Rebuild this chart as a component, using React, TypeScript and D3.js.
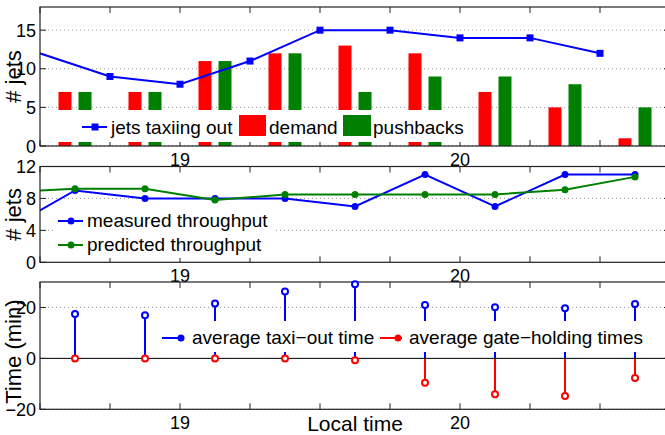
import * as d3 from "d3";
import React from "react";

const W = 665;
const H = 435;
const FONT = "'Liberation Sans', Arial, Helvetica, sans-serif";

// 15-minute bins, local time in hours; bars and stems sit at bin centres
const binCenters = [18.625, 18.875, 19.125, 19.375, 19.625, 19.875, 20.125, 20.375, 20.625];
const demand = [7, 7, 11, 12, 13, 12, 7, 5, 1];
const pushbacks = [7, 7, 11, 12, 7, 9, 9, 8, 5];

// jets taxiing out (first point lies left of the visible window)
const taxiTimes = [18.25, 18.75, 19, 19.25, 19.5, 19.75, 20, 20.25, 20.5];
const jetsTaxiing = [15, 9, 8, 11, 15, 15, 14, 14, 12];

// throughput
const throughputTimes = [18.375, ...binCenters];
const measured = [4, 9, 8, 8, 8, 7, 11, 7, 11, 11];
const predicted = [8.8, 9.2, 9.2, 7.8, 8.5, 8.5, 8.5, 8.5, 9.1, 10.7];

// times in minutes
const avgTaxiOut = [17.4, 16.9, 21.6, 26.3, 29.1, 21.0, 20.1, 19.7, 21.4];
const avgGateHold = [0, 0, 0, 0, -0.7, -9.6, -14.1, -14.8, -7.7];

const xTicks = [18.5, 18.75, 19, 19.25, 19.5, 19.75, 20, 20.25, 20.5, 20.75];
const xTickLabels = new Map([[19, "19"], [20, "20"]]);

const BLUE = "#0000ff";
const RED = "#ff0000";
const GREEN = "#008000";

const x = d3.scaleLinear().domain([18.5, 20.75]).range([40, 670]);
const sub = d3.scaleBand().domain(["demand", "pushbacks"]).range([-16.5, 16.5]).paddingInner(0.35);

type Scale = d3.ScaleLinear<number, number>;

type PanelProps = {
  id: string;
  top: number;
  bottom: number;
  domain: [number, number];
  yTicks: number[];
  ylabel: string;
  ylabelShift?: number;
  children: (y: Scale) => React.ReactNode;
  overlay?: (y: Scale) => React.ReactNode;
  legend?: React.ReactNode;
};

const Panel = ({ id, top, bottom, domain, yTicks, ylabel, ylabelShift = 0, children, overlay, legend }: PanelProps) => {
  const y = d3.scaleLinear().domain(domain).range([bottom, top]);
  const [x0, x1] = x.range();
  const tick = 6;
  return (
    <g>
      <clipPath id={id}>
        <rect x={x0} y={top} width={x1 - x0} height={bottom - top} />
      </clipPath>
      {yTicks.map((t) => (
        <line key={"g" + t} x1={x0} x2={x1} y1={y(t)} y2={y(t)} stroke="#999" strokeDasharray="1,3" />
      ))}
      <g clipPath={`url(#${id})`}>{children(y)}</g>
      {xTicks.map((t) => (
        <g key={"x" + t} stroke="#222">
          <line x1={x(t)} x2={x(t)} y1={bottom} y2={bottom - tick} />
          <line x1={x(t)} x2={x(t)} y1={top} y2={top + tick} />
        </g>
      ))}
      {yTicks.map((t) => (
        <g key={"y" + t} stroke="#222">
          <line x1={x0} x2={x0 + tick} y1={y(t)} y2={y(t)} />
          <line x1={x1} x2={x1 - tick} y1={y(t)} y2={y(t)} />
        </g>
      ))}
      <rect x={x0} y={top} width={x1 - x0} height={bottom - top} fill="none" stroke="#222" strokeWidth={1.2} />
      {overlay && overlay(y)}
      {yTicks.map((t) => (
        <text key={"yl" + t} x={36} y={y(t) + 6.5} textAnchor="end" fontSize={18}>
          {t < 0 ? "\u2212" + Math.abs(t) : t}
        </text>
      ))}
      {xTicks
        .filter((t) => xTickLabels.has(t))
        .map((t) => (
          <text key={"xl" + t} x={x(t)} y={bottom + 19.5} textAnchor="middle" fontSize={18}>
            {xTickLabels.get(t)}
          </text>
        ))}
      <text
        transform={`translate(21,${(top + bottom) / 2 + ylabelShift}) rotate(-90)`}
        textAnchor="middle"
        fontSize={22}
      >
        {ylabel}
      </text>
      {legend}
    </g>
  );
};

const App = () => {
  return (
    <svg
      width={W}
      height={H}
      style={{ position: "absolute", left: 0, top: 0, background: "#fff" }}
      fontFamily={FONT}
    >
      <rect width={W} height={H} fill="#fff" />

      {/* demand / pushbacks / jets taxiing out */}
      <Panel
        id="c1"
        top={7}
        bottom={146}
        domain={[0, 18]}
        yTicks={[0, 5, 10, 15]}
        ylabel="# jets"
        legend={
          <g fontSize={19}>
            <rect x={52} y={110} width={420} height={32} fill="#fff" />
            <line x1={82} x2={107} y1={127} y2={127} stroke={BLUE} strokeWidth={2} />
            <rect x={91.5} y={123.5} width={7} height={7} fill={BLUE} />
            <text x={111} y={133.5}>jets taxiing out</text>
            <rect x={239} y={115} width={27} height={21} fill={RED} />
            <text x={269} y={133.5}>demand</text>
            <rect x={343} y={115} width={28} height={21} fill={GREEN} />
            <text x={373} y={133.5}>pushbacks</text>
          </g>
        }
      >
        {(y) => {
          const line = d3
            .line<number>()
            .x((_, i) => x(taxiTimes[i]))
            .y((d) => y(d));
          return (
            <g>
              {binCenters.map((c, i) => (
                <g key={c}>
                  <rect
                    x={x(c) + (sub("demand") as number)}
                    y={y(demand[i])}
                    width={sub.bandwidth()}
                    height={y(0) - y(demand[i])}
                    fill={RED}
                  />
                  <rect
                    x={x(c) + (sub("pushbacks") as number)}
                    y={y(pushbacks[i])}
                    width={sub.bandwidth()}
                    height={y(0) - y(pushbacks[i])}
                    fill={GREEN}
                  />
                </g>
              ))}
              <path d={line(jetsTaxiing) ?? ""} fill="none" stroke={BLUE} strokeWidth={2} />
              {jetsTaxiing.map((d, i) => (
                <rect key={i} x={x(taxiTimes[i]) - 3.5} y={y(d) - 3.5} width={7} height={7} fill={BLUE} />
              ))}
            </g>
          );
        }}
      </Panel>

      {/* throughput */}
      <Panel
        id="c2"
        top={166.5}
        bottom={262.3}
        domain={[0, 12]}
        yTicks={[0, 4, 8, 12]}
        ylabel="# jets"
        legend={
          <g fontSize={19}>
            <rect x={53} y={204} width={222} height={54} fill="#fff" />
            <line x1={58} x2={83} y1={221} y2={221} stroke={BLUE} strokeWidth={2} />
            <circle cx={71} cy={221} r={3.5} fill={BLUE} />
            <text x={87} y={227}>measured throughput</text>
            <line x1={58} x2={83} y1={245} y2={245} stroke={GREEN} strokeWidth={2} />
            <circle cx={71} cy={245} r={3.5} fill={GREEN} />
            <text x={87} y={251}>predicted throughput</text>
          </g>
        }
      >
        {(y) => {
          const line = d3
            .line<number>()
            .x((_, i) => x(throughputTimes[i]))
            .y((d) => y(d));
          return (
            <g>
              <path d={line(measured) ?? ""} fill="none" stroke={BLUE} strokeWidth={2} />
              {measured.map((d, i) => (
                <circle key={"m" + i} cx={x(throughputTimes[i])} cy={y(d)} r={3.5} fill={BLUE} />
              ))}
              <path d={line(predicted) ?? ""} fill="none" stroke={GREEN} strokeWidth={2} />
              {predicted.map((d, i) => (
                <circle key={"p" + i} cx={x(throughputTimes[i])} cy={y(d)} r={3.5} fill={GREEN} />
              ))}
            </g>
          );
        }}
      </Panel>

      {/* taxi-out and gate-holding times */}
      <Panel
        id="c3"
        top={282}
        bottom={409.3}
        domain={[-20, 30]}
        yTicks={[-20, 0, 20]}
        ylabel="Time (min)"
        ylabelShift={6}
        legend={
          <g fontSize={19}>
            <rect x={155} y={321} width={497} height={31} fill="#fff" />
            <line x1={162} x2={184} y1={338} y2={338} stroke={BLUE} strokeWidth={2} />
            <circle cx={181} cy={338} r={3.5} fill={BLUE} />
            <text x={192} y={344}>average taxi{"\u2212"}out time</text>
            <line x1={380} x2={402} y1={338} y2={338} stroke={RED} strokeWidth={2} />
            <circle cx={398} cy={338} r={3.5} fill={RED} />
            <text x={409} y={344}>average gate{"\u2212"}holding times</text>
          </g>
        }
        overlay={(y) => (
          <g>
            {binCenters.map((c, i) => (
              <circle key={"bm" + i} cx={x(c)} cy={y(avgTaxiOut[i])} r={3} fill="#fff" stroke={BLUE} strokeWidth={2} />
            ))}
            {binCenters.map((c, i) => (
              <circle key={"rm" + i} cx={x(c)} cy={y(avgGateHold[i])} r={3} fill="#fff" stroke={RED} strokeWidth={2} />
            ))}
          </g>
        )}
      >
        {(y) => (
          <g>
            {binCenters.map((c, i) => (
              <line key={"bs" + i} x1={x(c)} x2={x(c)} y1={y(0)} y2={y(avgTaxiOut[i])} stroke={BLUE} strokeWidth={2} />
            ))}
            {binCenters.map((c, i) => (
              <line key={"rs" + i} x1={x(c)} x2={x(c)} y1={y(0)} y2={y(avgGateHold[i])} stroke={RED} strokeWidth={2} />
            ))}
            <line x1={x.range()[0]} x2={x.range()[1]} y1={y(0)} y2={y(0)} stroke="#000" strokeWidth={1} />
          </g>
        )}
      </Panel>

      <text x={355} y={431} textAnchor="middle" fontSize={21}>
        Local time
      </text>
    </svg>
  );
};

export default App;
